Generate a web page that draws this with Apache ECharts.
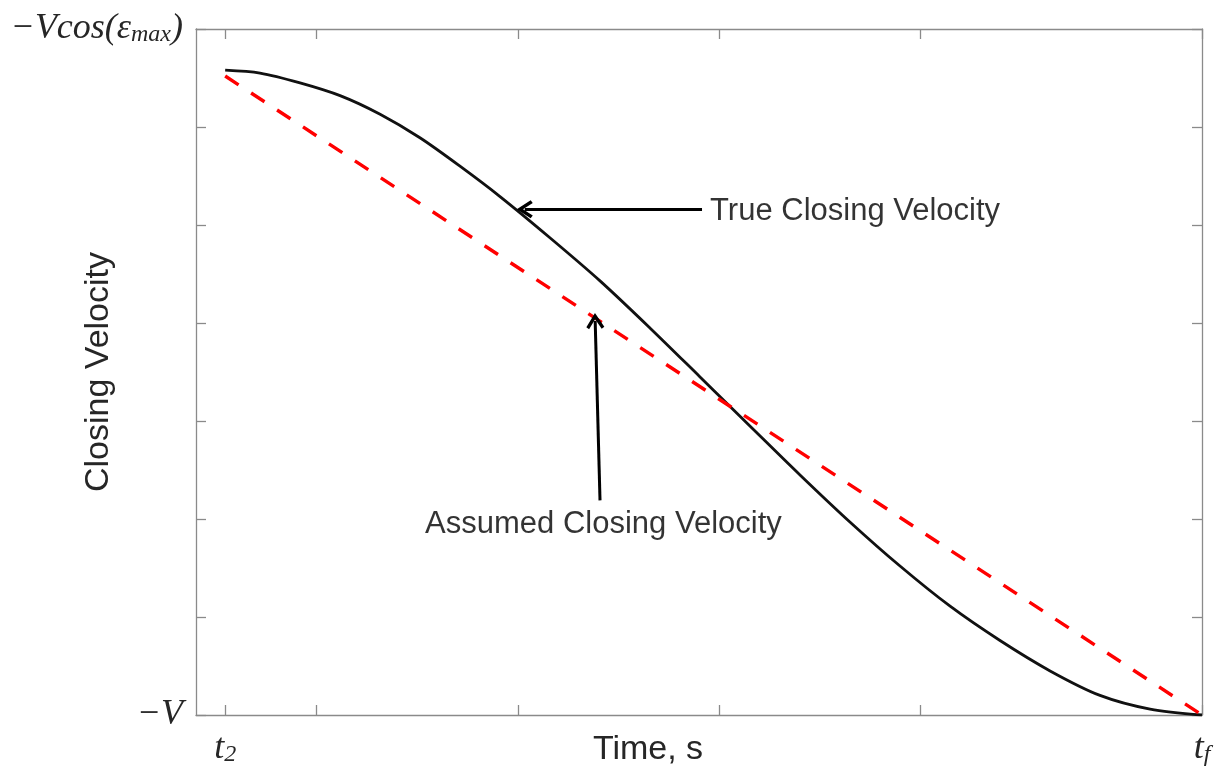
<!DOCTYPE html>
<html>
<head>
<meta charset="utf-8">
<script src="https://cdn.jsdelivr.net/npm/echarts@6/dist/echarts.min.js"></script>
<style>html,body{margin:0;padding:0;background:#fff}#c{width:1220px;height:770px}</style>
</head>
<body>
<div id="c"></div>
<script>
// ---- data (x in plot units, y: 0 = -V, 7 = -Vcos(eps_max)) ----
const T2 = 0.145;
const TF = 5.0;
const xTicks = [T2, 0.6, 1.6, 2.6, 3.6, TF];
const xTickLabels = ['t2', 'tf'];
const yTickLabels = ['-V', '-Vcos(eps_max)'];
const timeX = [0.145, 0.318, 0.517, 0.716, 0.915, 1.113, 1.312, 1.511, 1.759, 2.008, 2.256, 2.505, 2.753, 3.002, 3.250, 3.499, 3.748, 3.996, 4.245, 4.493, 4.742, 5.000];
const trueV = [6.58, 6.55, 6.45, 6.32, 6.13, 5.89, 5.60, 5.29, 4.87, 4.43, 3.95, 3.45, 2.95, 2.45, 1.97, 1.52, 1.11, 0.76, 0.45, 0.20, 0.06, 0.00];
const assumedX = [T2, TF];
const assumedV = [6.52, 0.00];
const annoText = ['True Closing Velocity', 'Assumed Closing Velocity'];
const annoPos = [[2.555, 5.14], [2.025, 1.94]];
// arrow end coords = centre of arrowhead (tip lies half a head further)
const arrowTrue = [[2.515, 5.16], [1.634, 5.16]];
const arrowAssumed = [[2.008, 2.19], [1.984, 4.02]];

const AX = '#8a8a8a';
const TXT = '#262626';
const serifI = {fontFamily: 'Liberation Serif', fontStyle: 'italic', fontSize: 36, color: TXT};
const serifSub = {fontFamily: 'Liberation Serif', fontStyle: 'italic', fontSize: 24, color: TXT, lineHeight: 2, verticalAlign: 'bottom'};
const chevron = 'path://M50 0 L100 80 L85 92 L50 36 L15 92 L0 80 Z';

const chart = echarts.init(document.getElementById('c'), null, {renderer: 'canvas'});
const baseX = {type: 'value', min: 0, max: TF, splitLine: {show: false},
  axisLine: {show: true, onZero: false, lineStyle: {color: AX, width: 1.3}}};
const baseY = {type: 'value', min: 0, max: 7, interval: 1, splitLine: {show: false},
  axisLine: {show: true, onZero: false, lineStyle: {color: AX, width: 1.3}}};

chart.setOption({
  animation: false,
  backgroundColor: '#fff',
  grid: {left: 196, right: 18, top: 29, bottom: 55, containLabel: false, outerBoundsMode: 'none'},
  xAxis: [
    Object.assign({}, baseX, {
      position: 'bottom',
      name: 'Time, s', nameLocation: 'middle', nameGap: 18, nameMoveOverlap: false,
      nameTextStyle: {fontFamily: 'Liberation Sans', fontSize: 34, color: TXT, padding: [0, 102, 0, 0]},
      axisTick: {show: true, inside: true, length: 10, customValues: xTicks, lineStyle: {color: AX, width: 1.3}},
      axisLabel: {show: true, customValues: [T2, TF], margin: 16, hideOverlap: false,
        formatter: function (v) { return Math.abs(v - T2) < 1e-6 ? '{i|t}{s|2}' : '{i|t}{s|f}'; },
        rich: {i: serifI, s: serifSub}}
    }),
    Object.assign({}, baseX, {
      position: 'top',
      axisTick: {show: true, inside: true, length: 10, customValues: xTicks, lineStyle: {color: AX, width: 1.3}},
      axisLabel: {show: false}
    })
  ],
  yAxis: [
    Object.assign({}, baseY, {
      position: 'left',
      name: 'Closing Velocity', nameLocation: 'middle', nameGap: 80, nameRotate: 90, nameMoveOverlap: false,
      nameTextStyle: {fontFamily: 'Liberation Sans', fontSize: 34, color: TXT},
      axisTick: {show: true, inside: true, length: 10, lineStyle: {color: AX, width: 1.3}},
      axisLabel: {show: true, customValues: [0, 7], margin: 13, hideOverlap: false,
        formatter: function (v) { return v > 3 ? '{i|\u2212Vcos(\u03b5}{s|max}{i|)}' : '{i|\u2212V}'; },
        rich: {i: serifI, s: Object.assign({}, serifSub, {lineHeight: 14})}}
    }),
    Object.assign({}, baseY, {
      position: 'right',
      axisTick: {show: true, inside: true, length: 10, lineStyle: {color: AX, width: 1.3}},
      axisLabel: {show: false}
    })
  ],
  series: [
    {
      name: 'True Closing Velocity', type: 'line', smooth: 0.3, showSymbol: false,
      data: timeX.map((x, i) => [x, trueV[i]]),
      lineStyle: {color: '#111', width: 2.8},
      markLine: {
        silent: true, symbol: ['none', chevron], symbolSize: [18, 16],
        lineStyle: {color: '#000', width: 3, type: 'solid'}, label: {show: false},
        data: [
          [{coord: arrowTrue[0]}, {coord: arrowTrue[1]}],
          [{coord: arrowAssumed[0]}, {coord: arrowAssumed[1]}]
        ]
      }
    },
    {
      name: 'Assumed Closing Velocity', type: 'line', showSymbol: false,
      data: assumedX.map((x, i) => [x, assumedV[i]]),
      lineStyle: {color: '#ff0000', width: 3.4, type: [16, 15]}
    },
    {
      name: 'annotations', type: 'scatter', symbolSize: 0, silent: true,
      data: [
        {value: annoPos[0], name: annoText[0], label: {position: 'right', distance: 0}},
        {value: annoPos[1], name: annoText[1], label: {position: 'inside'}}
      ],
      label: {show: true, formatter: '{b}', fontFamily: 'Liberation Sans', fontSize: 31, color: '#000'}
    }
  ]
});
</script>
</body>
</html>
